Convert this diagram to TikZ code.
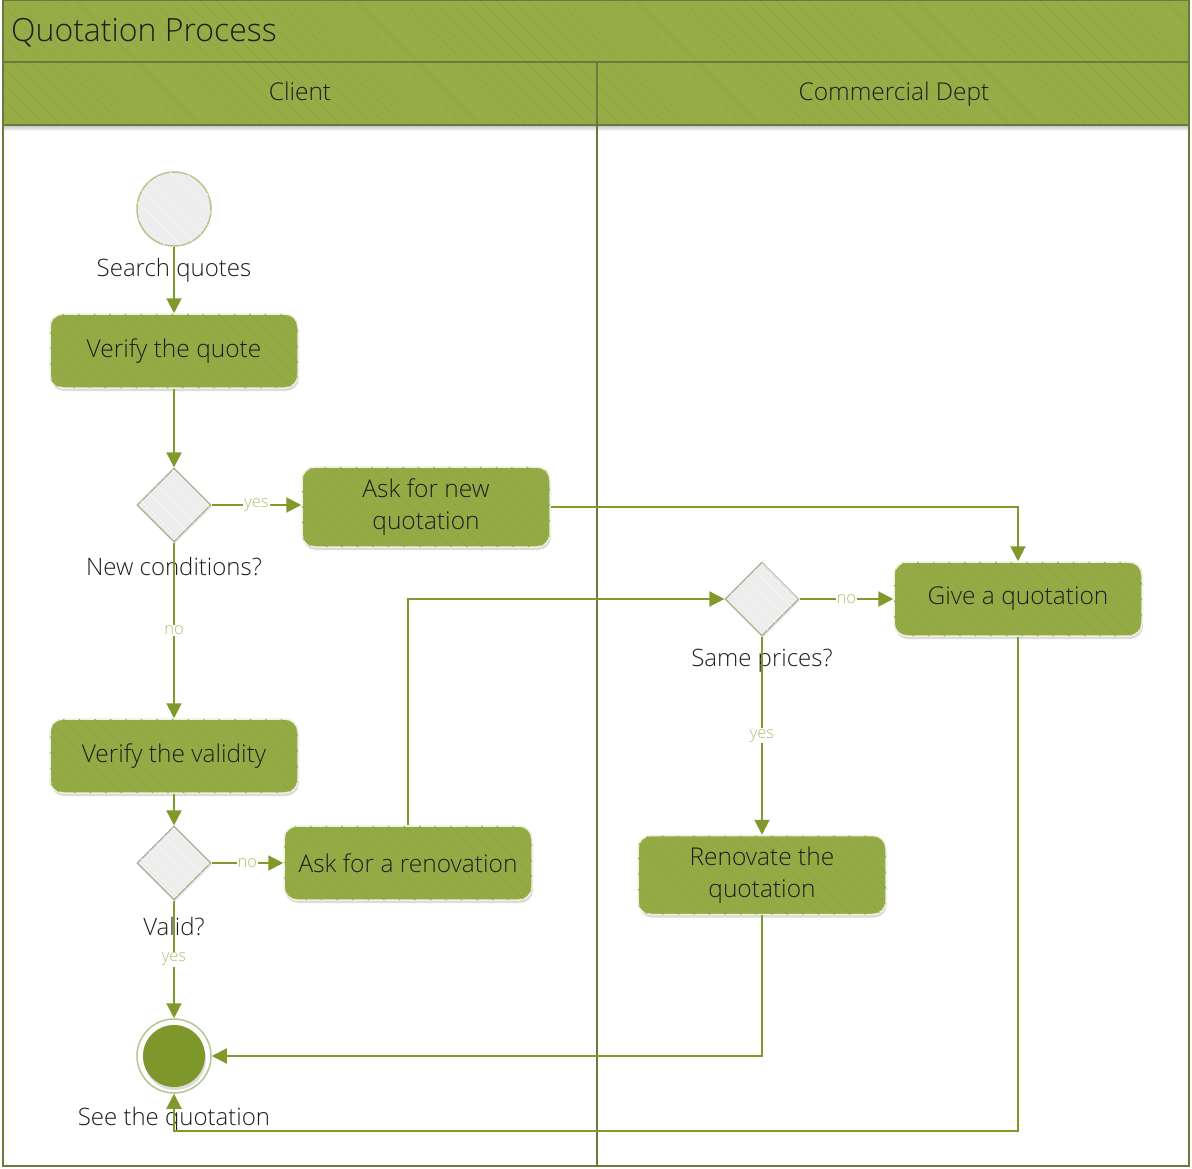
\documentclass[tikz,border=0pt]{standalone}
\usepackage{fontspec}
\setmainfont{Open Sans Light}
\usetikzlibrary{shapes.geometric,arrows.meta,shadows,patterns.meta}

\definecolor{barfill}{HTML}{95AC47}
\definecolor{barline}{HTML}{6B7A3A}
\definecolor{stripe}{HTML}{8FA643}
\definecolor{boxfill}{HTML}{94AB45}
\definecolor{boxrim}{HTML}{EEF2E2}
\definecolor{flowline}{HTML}{7F9A2B}
\definecolor{lblgreen}{HTML}{ADC270}
\definecolor{greyfill}{HTML}{EDEDED}
\definecolor{greystripe}{HTML}{F4F4F4}
\definecolor{greyrim}{HTML}{A9B092}
\definecolor{startrim}{HTML}{B7C68C}
\definecolor{endfill}{HTML}{7E972B}
\definecolor{ink}{HTML}{1E1E1E}

\tikzset{
  stripes/.style={postaction={pattern={Lines[angle=-45,distance=11pt,line width=0.8pt]},pattern color=#1}},
  actbox/.style={rectangle, rounded corners=13pt, fill=boxfill, draw=boxrim, line width=1.5pt,
    minimum width=248pt, minimum height=74pt, align=center, text=ink,
    font=\fontsize{24.5}{32}\selectfont, stripes=stripe,
    drop shadow={shadow xshift=1pt, shadow yshift=-3pt, opacity=0.35, fill=black!40}},
  decision/.style={diamond, aspect=1, inner sep=0pt, minimum size=74pt, fill=greyfill,
    draw=greyrim, line width=1.2pt, stripes=greystripe,
    drop shadow={shadow xshift=1pt, shadow yshift=-2pt, opacity=0.2, fill=black!40}},
  startnode/.style={circle, inner sep=0pt, minimum size=74pt, fill=greyfill, draw=startrim,
    line width=1.5pt, stripes=greystripe},
  endouter/.style={circle, inner sep=0pt, minimum size=74pt, fill=white, draw=startrim, line width=1.5pt},
  endinner/.style={circle, inner sep=0pt, minimum size=62pt, fill=endfill,
    drop shadow={shadow xshift=1pt, shadow yshift=-3pt, opacity=0.35, fill=black!40}},
  caption/.style={text=ink, font=\fontsize{24}{28}\selectfont, inner sep=0pt},
  lanehead/.style={text=ink, font=\fontsize{24.5}{28}\selectfont, inner sep=0pt, anchor=base},
  flow/.style={draw=flowline, line width=2pt, -{Triangle[length=15pt,width=15pt]}},
  lbl/.style={fill=white, text=lblgreen, font=\fontsize{16.5}{18}\selectfont, inner sep=1pt}
}

\begin{document}
\begin{tikzpicture}[x=1pt,y=-1pt]
\useasboundingbox (0,0) rectangle (1192,1169);
\fill[white] (0,0) rectangle (1192,1169);

% pool title bar and lane headers
\fill[barfill, stripes=stripe] (3,0) rectangle (1189,62);
\fill[barfill, stripes=stripe] (3,62) rectangle (1189,125);
\shade[top color=black!25, bottom color=white] (3,125) rectangle (1189,131);
\draw[barline, line width=2pt] (3,0) rectangle (1189,1166);
\draw[barline, line width=2pt] (3,62) -- (1189,62);
\draw[barline, line width=2pt] (3,125) -- (1189,125);
\draw[barline, line width=2pt] (597,62) -- (597,1166);

\node[anchor=base west, text=ink, font=\fontsize{32}{36}\selectfont, inner sep=0pt] (title) at (11,42) {Quotation Process};
\node[lanehead] (laneA) at (300,101) {Client};
\node[lanehead] (laneB) at (894,101) {Commercial Dept};

% activity nodes
\node[startnode] (start) at (174,209) {};
\node[actbox] (verq) at (174,351) {Verify the quote};
\node[decision] (d1) at (174,505) {};
\node[actbox, minimum height=80pt] (asknew) at (426,507) {Ask for new\\quotation};
\node[actbox] (verv) at (174,756) {Verify the validity};
\node[decision] (d2) at (174,863) {};
\node[actbox] (askren) at (408,863) {Ask for a renovation};
\node[endouter] (endc) at (174,1056) {};
\node[endinner] (endin) at (174,1056) {};
\node[actbox] (give) at (1018,599) {Give a quotation};
\node[decision] (d3) at (762,599) {};
\node[actbox, minimum height=79pt] (reno) at (762,875) {Renovate the\\quotation};

% captions under the round and diamond nodes
\node[caption] (capA) at (174,270) {Search quotes};
\node[caption] (capB) at (174,566) {New conditions?};
\node[caption] (capC) at (174,926) {Valid?};
\node[caption] (capD) at (174,1119) {See the quotation};
\node[caption] (capE) at (762,661) {Same prices?};

% turning points of the long return lines
\coordinate (retR) at (1018,1131);
\coordinate (retL) at (174,1131);

% connectors
\draw[flow] (start) -- (verq);
\draw[flow] (verq) -- (d1);
\draw[flow] (d1.east) -- node[lbl]{yes} (asknew.west |- d1.east);
\draw[flow] (asknew.east) -| (give.north);
\draw[flow] (d1) -- node[lbl]{no} (verv);
\draw[flow] (verv) -- (d2);
\draw[flow] (d2) -- node[lbl]{no} (askren);
\draw[flow] (askren.north) |- (d3.west);
\draw[flow] (d3) -- node[lbl]{no} (give);
\draw[flow] (d3) -- node[lbl]{yes} (reno);
\draw[flow] (reno.south) |- (endc.east);
\draw[flow] (give.south) -- (retR) -- (retL) -- (endc.south);
\draw[flow] (d2) -- node[lbl]{yes} (endc);
\end{tikzpicture}
\end{document}
